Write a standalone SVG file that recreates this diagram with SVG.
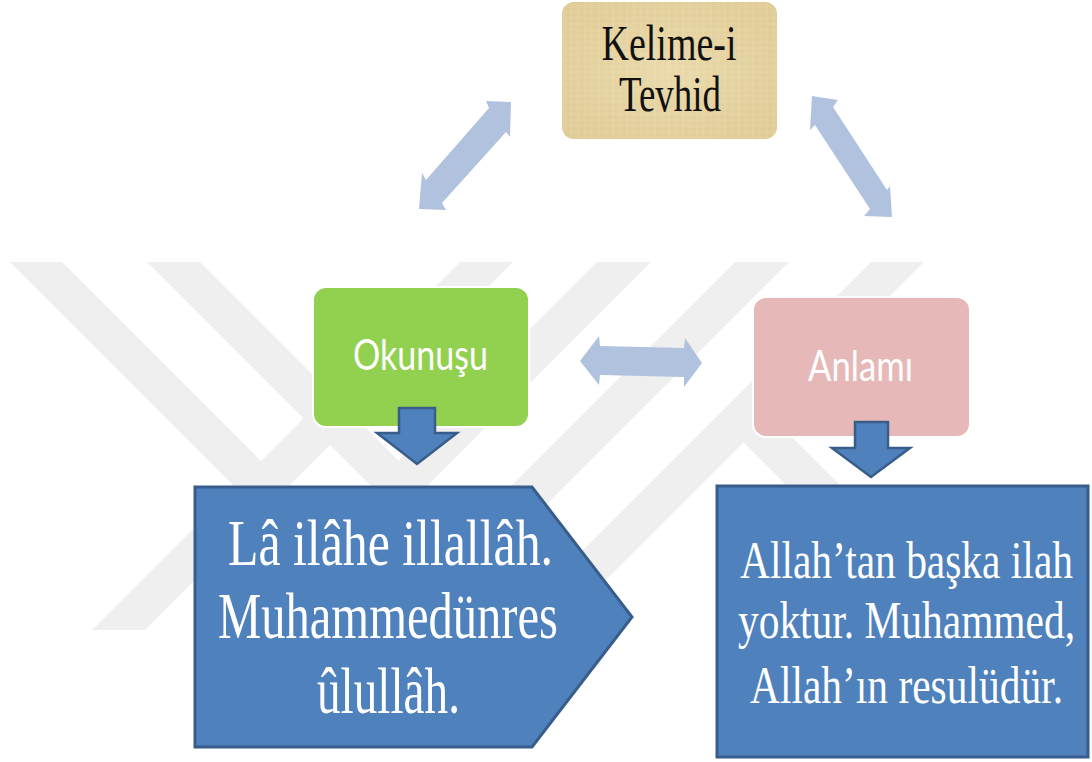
<svg xmlns="http://www.w3.org/2000/svg" width="1092" height="762" viewBox="0 0 1092 762">
<style>
.wm{fill:#efefef}
.dbl{fill:#b0c2de}
.blk{fill:#4f81bd;stroke:#385d8a;stroke-width:2.5;stroke-linejoin:miter}
.big{fill:#4f81bd;stroke:#385d8a;stroke-width:3}
.serif{font-family:"Liberation Serif","Times New Roman",serif}
.sans{font-family:Lato,"Open Sans",sans-serif;fill:#ffffff}
.wt{fill:#ffffff}
</style>
<defs>
<pattern id="papyrus" width="14" height="12" patternUnits="userSpaceOnUse">
<rect width="14" height="12" fill="#e6d4a2"/>
<path d="M0 3H14M0 9H14" stroke="#d9c48c" stroke-width="1" opacity="0.5"/>
<path d="M4 0V12M11 0V12" stroke="#f0e2bc" stroke-width="1" opacity="0.6"/>
</pattern>
<radialGradient id="papyrusShade" cx="0.5" cy="0.5" r="0.7">
<stop offset="0" stop-color="#f2e4bb" stop-opacity="0.45"/>
<stop offset="1" stop-color="#d6bf86" stop-opacity="0.35"/>
</radialGradient>
</defs>
<rect width="1092" height="762" fill="#ffffff"/>
<g id="watermark">
<polygon class="wm" points="10,262 62,262 274,474 248,500"/>
<polygon class="wm" points="460,262 513,262 145,630 92,630"/>
<polygon class="wm" points="147,262 200,262 412,474 385,500"/>
<polygon class="wm" points="597,262 651,262 283,630 229,630"/>
<polygon class="wm" points="735,262 789,262 421,630 367,630"/>
<polygon class="wm" points="871,262 924,262 556,630 503,630"/>
<polygon class="wm" points="730,429 757,402 985,630 931,630"/>
</g>
<g id="node-kelime">
<rect x="562" y="2" width="215" height="137" rx="12" fill="url(#papyrus)"/>
<rect x="562" y="2" width="215" height="137" rx="12" fill="url(#papyrusShade)"/>
<text class="serif" transform="translate(669,60) scale(1,1.3)" font-size="38.5" text-anchor="middle" textLength="135" lengthAdjust="spacingAndGlyphs" fill="#111111">Kelime-i</text>
<text class="serif" transform="translate(670,111) scale(1,1.3)" font-size="38.5" text-anchor="middle" textLength="102" lengthAdjust="spacingAndGlyphs" fill="#111111">Tevhid</text>
</g>
<g id="node-okunusu">
<rect x="313" y="287" width="216" height="140" rx="13" fill="#92d050" stroke="#ffffff" stroke-width="2"/>
<text class="sans" x="420.5" y="370" font-size="42" text-anchor="middle" textLength="135" lengthAdjust="spacingAndGlyphs">Okunuşu</text>
</g>
<g id="node-anlami">
<rect x="753" y="297" width="217" height="140" rx="13" fill="#e6b8b7" stroke="#ffffff" stroke-width="2"/>
<text class="sans" x="860.5" y="381" font-size="43" text-anchor="middle" textLength="105" lengthAdjust="spacingAndGlyphs">Anlamı</text>
</g>
<g id="node-okunus-text">
<polygon class="big" points="195,487 532,487 632,617 532,747 195,747"/>
<text class="serif wt" transform="translate(390.5,565) scale(1,1.32)" font-size="50" text-anchor="middle" textLength="325" lengthAdjust="spacingAndGlyphs">Lâ ilâhe illallâh.</text>
<text class="serif wt" transform="translate(388,638) scale(1,1.32)" font-size="50" text-anchor="middle" textLength="340" lengthAdjust="spacingAndGlyphs">Muhammedünres</text>
<text class="serif wt" transform="translate(388.5,713) scale(1,1.32)" font-size="50" text-anchor="middle" textLength="143" lengthAdjust="spacingAndGlyphs">ûlullâh.</text>
</g>
<g id="node-anlam-text">
<rect class="big" x="717" y="486" width="371" height="271"/>
<text class="serif wt" transform="translate(906.5,578) scale(1,1.31)" font-size="41" text-anchor="middle" textLength="333" lengthAdjust="spacingAndGlyphs">Allah’tan başka ilah</text>
<text class="serif wt" transform="translate(906.5,638) scale(1,1.31)" font-size="41" text-anchor="middle" textLength="337" lengthAdjust="spacingAndGlyphs">yoktur. Muhammed,</text>
<text class="serif wt" transform="translate(906.5,703) scale(1,1.31)" font-size="41" text-anchor="middle" textLength="313" lengthAdjust="spacingAndGlyphs">Allah’ın resulüdür.</text>
</g>
<g id="connectors">
<polygon class="dbl" points="511,102 486,101 489,108 426,180 422,173 419,209 446,210 442,203 506,132 510,137"/>
<polygon class="dbl" points="812,96 838,100 833,107 887,190 890,186 892,217 864,216 870,209 815,125 810,130"/>
<polygon class="dbl" points="580,361 599,336 600,346 684,348 685,338 702,363 684,387 684,377 600,375 599,385"/>
<polygon class="blk" points="399,408 435,408 435,433 457,433 417,464 377,433 399,433"/>
<polygon class="blk" points="855,422 888,422 888,448 910,448 871,477 832,448 855,448"/>
</g>
</svg>
